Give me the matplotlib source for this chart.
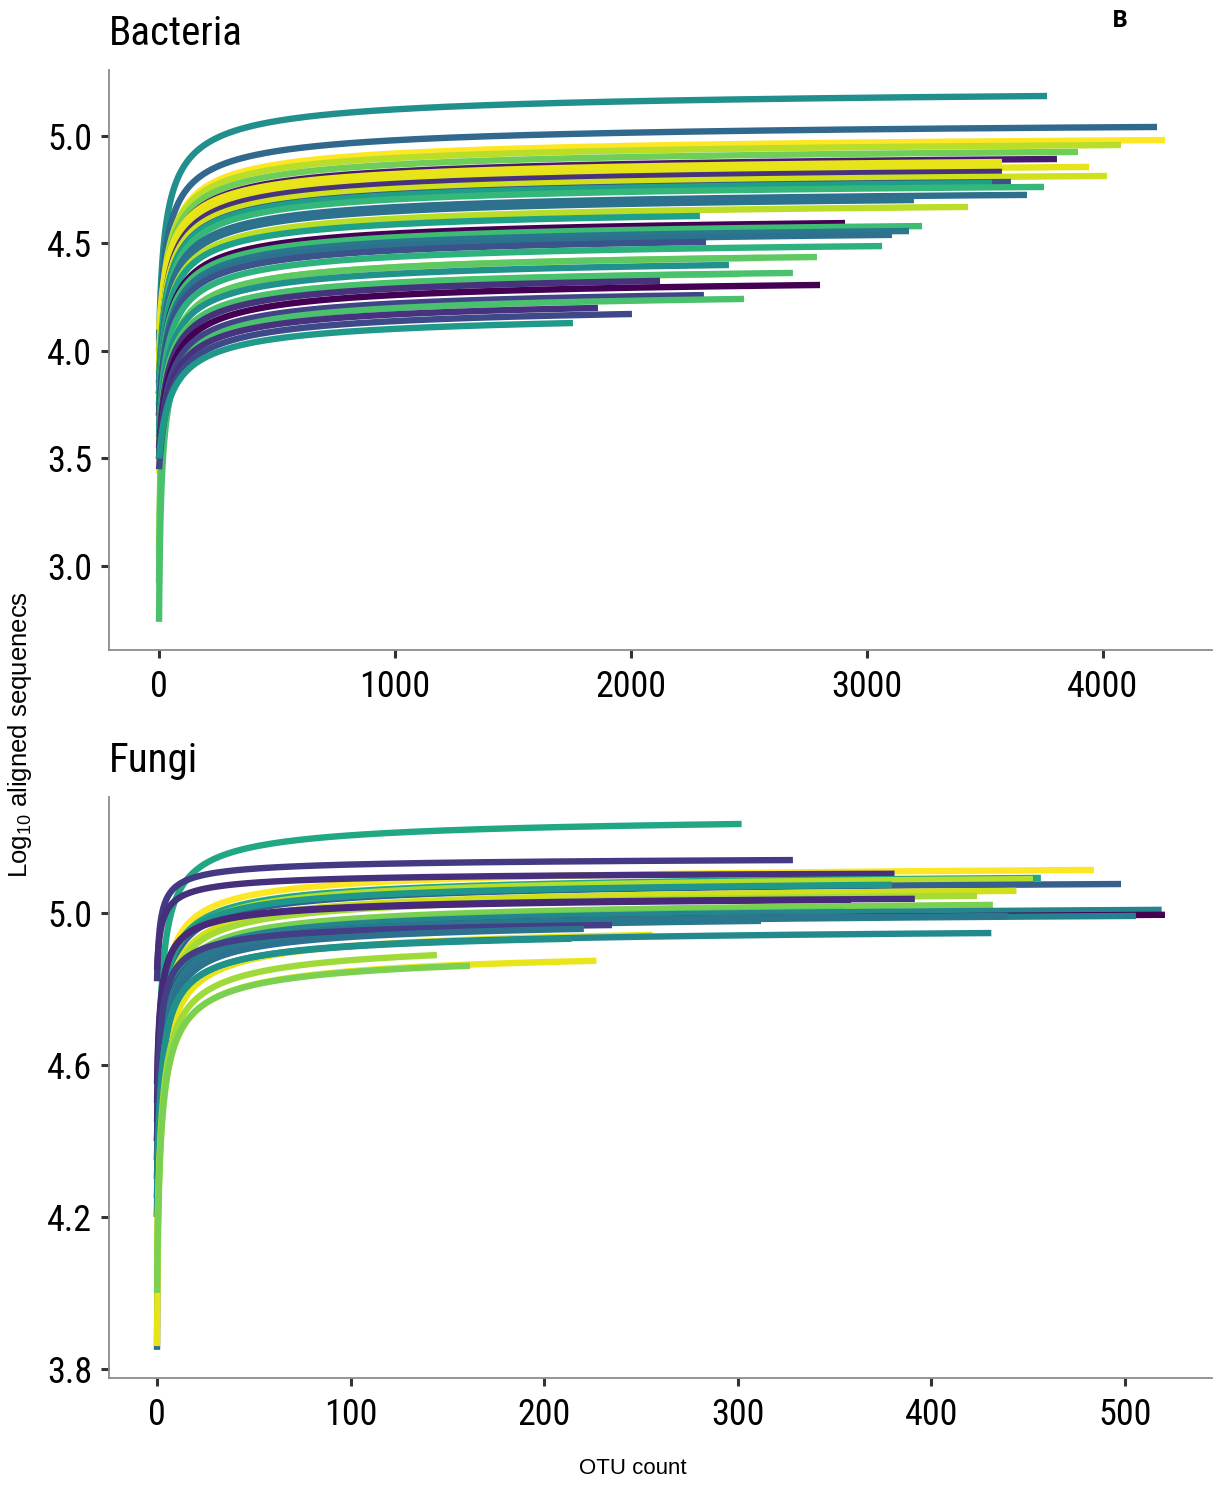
import numpy as np
import matplotlib
matplotlib.use("Agg")
import matplotlib.pyplot as plt
from matplotlib import font_manager
from matplotlib.font_manager import FontProperties

REG = ['Liberation Sans', 'DejaVu Sans']
plt.rcParams['mathtext.default'] = 'regular'

# look for a narrow / condensed sans face among installed fonts
narrow_path = None
for pref in ['liberation sans narrow', 'arial narrow', 'roboto condensed', 'open sans condensed',
             'noto sans condensed', 'dejavu sans condensed', 'noto sans']:
    for f in font_manager.fontManager.ttflist:
        nm = f.name.lower()
        fn = f.fname.lower()
        st = str(f.stretch).lower()
        cond = ('narrow' in nm or 'condensed' in nm or 'condensed' in fn or 'narrow' in fn
                or st in ('condensed', 'semi-condensed', 'extra-condensed', '75', '87.5'))
        if cond and (pref.split()[0] in nm) and f.style == 'normal' and \
                str(f.weight) in ('400', 'normal', 'regular', 'book') and 'semi' not in fn \
                and 'extra' not in fn and 'light' not in fn and 'medium' not in fn:
            narrow_path = f.fname
            break
    if narrow_path:
        break

if narrow_path:
    TICKFP = FontProperties(fname=narrow_path, size=26)
    TITLEFP = FontProperties(fname=narrow_path, size=29.5)
else:
    TICKFP = FontProperties(family=REG, size=23.5)
    TITLEFP = FontProperties(family=REG, size=28)

# ---------------- Bacteria: per-sample curve end points ----------------
bac_otu_end = [3763, 4229, 4263, 4076, 3894, 3805, 3572, 3941, 3572, 4017,
               3610, 3530, 3750, 3678, 3199, 3428, 2292, 2907, 3233, 3178,
               3106, 2318, 3064, 2559, 2788, 2415, 2462, 2686, 2123, 2801,
               2309, 2479, 1860, 2004, 1754]
bac_logseq_end = [5.186, 5.042, 4.981, 4.958, 4.926, 4.893, 4.879, 4.856, 4.833, 4.814,
                  4.786, 4.781, 4.763, 4.726, 4.702, 4.670, 4.628, 4.595, 4.581, 4.558,
                  4.540, 4.507, 4.488, 4.433, 4.437, 4.400, 4.358, 4.363, 4.326, 4.307,
                  4.260, 4.242, 4.200, 4.172, 4.130]
bac_logseq_start = [4.05, 4.00, 3.43, 3.95, 3.90, 3.85, 4.10, 3.95, 3.80, 3.90,
                    3.80, 3.85, 3.75, 3.80, 3.75, 3.70, 3.80, 3.70, 3.75, 3.70,
                    3.65, 3.70, 3.60, 3.06, 2.92, 3.60, 3.55, 3.50, 3.55, 3.50,
                    3.50, 2.74, 3.50, 3.45, 3.50]
bac_colors = ['#21908d', '#31688e', '#fde725', '#b8de29', '#6ece58', '#481a6c', '#e8e419',
              '#e5e419', '#46327e', '#d0e11c', '#3b528b', '#1f9e89', '#35b779', '#2d708e',
              '#2c728e', '#bade28', '#1fa187', '#440154', '#3dbc74', '#2a788e', '#2c728e',
              '#3b528b', '#2db27d', '#a0da39', '#5ec962', '#21918c', '#8fd744', '#4ac16d',
              '#46337e', '#440154', '#414487', '#4ac16d', '#46327e', '#3e4989', '#1f9a8a']
bac_knee = [7.0] + [6.5] * 34

# ---------------- Fungi: per-sample curve end points ----------------
fun_otu_end = [302, 328.5, 484, 381, 456.6, 452.5, 498, 379.6, 444, 423.6,
               391.5, 358.5, 431.8, 355.4, 519, 520.7, 505.7, 439.5, 358.5, 312,
               235, 220.5, 256, 431, 214, 227, 144.6, 161.7]
fun_logseq_end = [5.234, 5.139, 5.113, 5.103, 5.092, 5.089, 5.076, 5.074, 5.058, 5.045,
                  5.037, 5.034, 5.021, 5.005, 5.008, 4.995, 4.992, 4.992, 4.990, 4.979,
                  4.968, 4.958, 4.942, 4.947, 4.932, 4.874, 4.889, 4.861]
fun_logseq_start = [4.20, 4.82, 4.30, 4.85, 4.35, 4.25, 4.40, 4.35, 4.20, 4.25,
                    4.50, 4.55, 4.20, 4.25, 4.40, 4.45, 4.30, 4.30, 4.35, 4.20,
                    4.40, 3.85, 3.86, 4.25, 4.20, 4.10, 4.05, 4.00]
fun_colors = ['#22a785', '#443983', '#fde725', '#46307e', '#22a884', '#b5de2b', '#355f8d',
              '#1f988b', '#d0e11c', '#a5db36', '#46307e', '#482878', '#7ad151', '#5ec962',
              '#25858e', '#440154', '#26818e', '#2a788e', '#2a788e', '#2a788e', '#433e85',
              '#2c728e', '#e5e419', '#23898e', '#21918c', '#eae51a', '#a0da39', '#7ad151']
fun_knee = [1.6, 0.6, 1.5, 0.6, 1.5, 1.6, 1.5, 1.4, 1.6, 1.6,
            1.0, 1.0, 1.6, 1.6, 1.5, 1.5, 1.5, 1.5, 1.5, 1.5,
            1.0, 1.5, 1.8, 1.5, 1.5, 1.9, 1.9, 1.86]


def curve(xe, ye, y0, A, b):
    d0 = 1 - 10 ** (y0 - ye)
    c = 1.0
    for _ in range(60):
        c = (d0 / A + (xe + c) ** (-b)) ** (-1.0 / b)
    x = np.concatenate([[0.0], xe * np.geomspace(1e-5, 1, 600)])
    d = A * ((x + c) ** (-b) - (xe + c) ** (-b))
    y = ye + np.log10(np.clip(1 - d, 1e-9, None))
    return x, y


fig = plt.figure(figsize=(12.27, 14.85), dpi=100)
W, H = 1227, 1485


def make_ax(top, bottom):
    return fig.add_axes([109 / W, 1 - bottom / H, (1212 - 109) / W, (bottom - top) / H])


def style(ax):
    for s in ['top', 'right']:
        ax.spines[s].set_visible(False)
    for s in ['left', 'bottom']:
        ax.spines[s].set_color('#8c8c8c')
        ax.spines[s].set_linewidth(1.3)
    ax.tick_params(axis='both', length=6, width=2.2, color='#333333', labelcolor='black')
    ax.tick_params(axis='x', pad=8)
    ax.tick_params(axis='y', pad=6)
    for lab in ax.get_xticklabels() + ax.get_yticklabels():
        lab.set_fontproperties(TICKFP)


ax1 = make_ax(70, 650)
for xe, ye, y0, A, col in zip(bac_otu_end, bac_logseq_end, bac_logseq_start, bac_knee, bac_colors):
    x, y = curve(xe, ye, y0, A, 0.45)
    ax1.plot(x, y, color=col, lw=4.6, solid_capstyle='butt')
ax1.set_xlim(-212, 4462)
ax1.set_ylim(2.609, 5.307)
ax1.set_xticks([0, 1000, 2000, 3000, 4000])
ax1.set_yticks([3.0, 3.5, 4.0, 4.5, 5.0])
ax1.set_yticklabels(['3.0', '3.5', '4.0', '4.5', '5.0'])
style(ax1)

ax2 = make_ax(797, 1378)
for xe, ye, y0, A, col in zip(fun_otu_end, fun_logseq_end, fun_logseq_start, fun_knee, fun_colors):
    x, y = curve(xe, ye, y0, A, 0.5)
    ax2.plot(x, y, color=col, lw=4.6, solid_capstyle='butt')
ax2.set_xlim(-24.8, 545)
ax2.set_ylim(3.776, 5.305)
ax2.set_xticks([0, 100, 200, 300, 400, 500])
ax2.set_yticks([3.8, 4.2, 4.6, 5.0])
ax2.set_yticklabels(['3.8', '4.2', '4.6', '5.0'])
style(ax2)

fig.text(109 / W, 1 - 45 / H, 'Bacteria', fontproperties=TITLEFP, ha='left', va='baseline')
fig.text(109 / W, 1 - 772 / H, 'Fungi', fontproperties=TITLEFP, ha='left', va='baseline')
fig.text(1120 / W, 1 - 21 / H, 'B', family=['Open Sans', 'DejaVu Sans'], fontweight='bold',
         fontsize=17, ha='center', va='center')
fig.text(633 / W, 1 - 1468 / H, 'OTU count', family=REG, fontsize=16, ha='center', va='center')
fig.text(20 / W, 1 - 735 / H, r'Log$_{10}$ aligned sequenecs', family=REG, fontsize=18.5,
         rotation=90, ha='center', va='center')

fig.savefig('out.png', dpi=100)
